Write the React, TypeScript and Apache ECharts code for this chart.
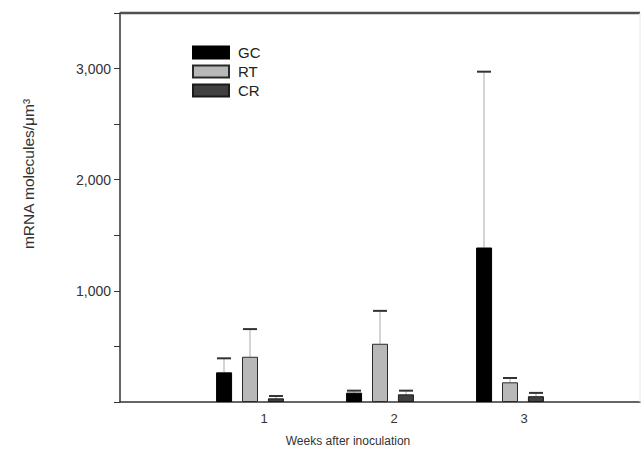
import React, { useEffect, useRef } from "react";
import * as echarts from "echarts";

const weeks = ["1", "2", "3"];
const seriesNames = ["GC", "RT", "CR"];
const gcValues = [267, 84, 1390];
const rtValues = [407, 524, 177];
const crValues = [33, 69, 52];
const gcUpper = [393, 102, 2972];
const rtUpper = [656, 820, 216];
const crUpper = [54, 102, 82];
const yTicks = [0, 500, 1000, 1500, 2000, 2500, 3000, 3500];

const FONT = "Arial, 'Liberation Sans', Helvetica, sans-serif";

export default function App() {
  const ref = useRef<HTMLDivElement>(null);
  useEffect(() => {
    if (!ref.current) return;
    const chart = echarts.init(ref.current, undefined, { renderer: "svg" });
    const cats = ["0", ...weeks, "4"];
    const pad = (arr: number[]) => ["-", ...arr, "-"];
    const values = [gcValues, rtValues, crValues];
    const uppers = [gcUpper, rtUpper, crUpper];
    const fills = ["#000000", "#b8b8b8", "#404040"];
    const borders = ["#000000", "#2a2a2a", "#1a1a1a"];
    const yMax = yTicks[yTicks.length - 1];
    const errData: number[][] = [];
    values.forEach((vals, k) => {
      vals.forEach((v, i) => {
        errData.push([i + 1, v, uppers[k][i], k]);
      });
    });
    const barSeries = seriesNames.map((name, k) => ({
      type: "bar",
      name,
      data: pad(values[k]),
      barWidth: 16,
      barGap: "62%",
      itemStyle: { color: fills[k], borderColor: borders[k], borderWidth: 1 },
      emphasis: { disabled: true },
      z: 3,
    }));
    chart.setOption({
      animation: false,
      backgroundColor: "#ffffff",
      grid: { left: 120, right: 4, top: 13, bottom: 53, containLabel: false },
      legend: {
        orient: "vertical",
        left: 187,
        top: 40,
        padding: 5,
        itemWidth: 36,
        itemHeight: 12,
        itemGap: 4,
        icon: "rect",
        data: seriesNames,
        textStyle: { fontFamily: FONT, fontSize: 15, color: "#222", padding: [0, 0, 0, 4] },
      },
      xAxis: [
        {
          type: "category",
          data: cats,
          boundaryGap: false,
          axisLine: { lineStyle: { color: "#333", width: 1.5 } },
          axisTick: { show: false },
          axisLabel: {
            fontFamily: FONT,
            fontSize: 13,
            color: "#333",
            margin: 10,
            padding: [0, 0, 0, 28],
            formatter: (v: string) => (weeks.includes(v) ? v : ""),
          },
          splitLine: { show: false },
        },
      ],
      yAxis: [
        {
          type: "value",
          min: yTicks[0],
          max: yMax,
          interval: 500,
          axisLine: { show: true, lineStyle: { color: "#333", width: 1.5 } },
          axisTick: { show: true, inside: false, length: 6, lineStyle: { color: "#333" } },
          axisLabel: {
            fontFamily: FONT,
            fontSize: 14,
            color: "#333",
            margin: 9,
            formatter: (v: number) =>
              v > 0 && v % 1000 === 0 && v < yMax ? v.toLocaleString("en-US") : "",
          },
          splitLine: { show: false },
        },
      ],
      series: [
        ...barSeries,
        {
          type: "custom",
          name: "err",
          data: errData,
          encode: { x: 0, y: [1, 2] },
          z: 2,
          clip: false,
          silent: true,
          renderItem: (params: any, api: any) => {
            const x = api.value(0);
            const lo = api.coord([x, api.value(1)]);
            const hi = api.coord([x, api.value(2)]);
            const k = api.value(3);
            const cx = lo[0] + (k - 1) * 26;
            const children: any[] = [
              {
                type: "line",
                shape: { x1: cx, y1: lo[1], x2: cx, y2: hi[1] },
                style: { stroke: "#aaaaaa", lineWidth: 1 },
              },
              {
                type: "line",
                shape: { x1: cx - 7, y1: hi[1], x2: cx + 7, y2: hi[1] },
                style: { stroke: "#333333", lineWidth: 2 },
              },
            ];
            if (params.dataIndex === 0) {
              const tl = api.coord([0, yMax]);
              const tr = api.coord([cats.length - 1, yMax]);
              const br = api.coord([cats.length - 1, 0]);
              children.push(
                {
                  type: "line",
                  shape: { x1: tl[0], y1: tl[1], x2: tr[0], y2: tr[1] },
                  style: { stroke: "#505050", lineWidth: 2.5 },
                },
                {
                  type: "line",
                  shape: { x1: tr[0], y1: tr[1], x2: br[0], y2: br[1] },
                  style: { stroke: "#e8e8e8", lineWidth: 1 },
                }
              );
            }
            return { type: "group", children };
          },
        },
      ],
      graphic: [
        {
          type: "text",
          x: 28,
          y: 174,
          rotation: Math.PI / 2,
          style: {
            text: "mRNA molecules/μm³",
            fontFamily: FONT,
            fontSize: 15.5,
            fill: "#333",
            textAlign: "center",
            textVerticalAlign: "middle",
          },
        },
        {
          type: "text",
          x: 348,
          y: 441,
          style: {
            text: "Weeks after inoculation",
            fontFamily: FONT,
            fontSize: 12,
            fill: "#333",
            textAlign: "center",
            textVerticalAlign: "middle",
          },
        },
      ],
    });
    return () => chart.dispose();
  }, []);
  return <div ref={ref} style={{ width: 644, height: 455, position: "absolute", left: 0, top: 0 }} />;
}
